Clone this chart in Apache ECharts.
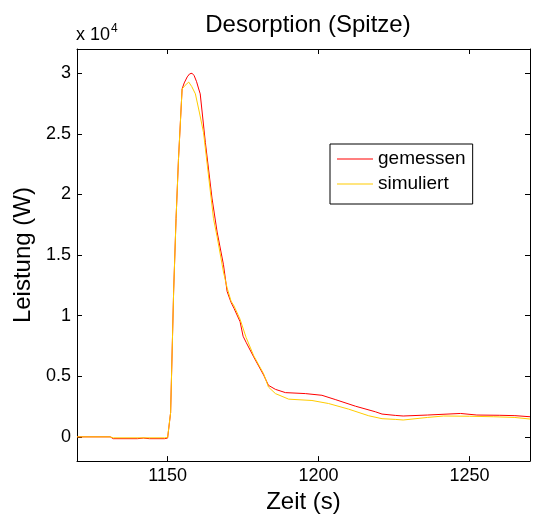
<!DOCTYPE html>
<html>
<head>
<meta charset="utf-8">
<script src="https://cdn.jsdelivr.net/npm/echarts@6/dist/echarts.min.js"></script>
<style>
  html, body { margin: 0; padding: 0; background: #fff; }
  #chart { width: 542px; height: 519px; }
</style>
</head>
<body>
<div id="chart"></div>
<script>
// Messdaten (gemessen)
var measuredTime = [1120, 1131, 1132, 1140, 1142, 1144, 1149, 1150, 1150.4, 1151, 1152, 1152.8, 1153.6, 1154.8,
  1155.5, 1156.5, 1157.3, 1158.1, 1158.8, 1159.6, 1160.3, 1160.8, 1162.5, 1164.7, 1166.4, 1168.5, 1169.7,
  1171, 1172, 1174, 1175, 1176, 1178.5, 1181.8, 1183.4, 1185.7, 1189, 1195.6, 1201.1, 1205.5, 1212.2,
  1218.8, 1221, 1225.4, 1228, 1236, 1247, 1252.4, 1260, 1265, 1270];
var measuredPower = [0, 0, -150, -150, -100, -150, -150, -100, 0, 2000, 12000, 18000, 22900, 28700,
  29200, 29700, 29950, 30000, 29800, 29300, 28700, 28300, 24300, 19700, 16900, 14200, 12000,
  11100, 10600, 9500, 8300, 7800, 6600, 5100, 4250, 3920, 3650, 3570, 3430, 3080, 2530,
  2070, 1880, 1770, 1720, 1800, 1930, 1800, 1780, 1750, 1660];

// Simulation (simuliert)
var simulatedTime = [1120, 1131, 1132, 1149, 1150, 1150.4, 1151, 1152, 1152.8, 1153.6, 1154.8,
  1155.8, 1157, 1158, 1159.2, 1160.5, 1161.9, 1165.2, 1166.4, 1168.5, 1169.7, 1171, 1172, 1174, 1176,
  1178.5, 1181.8, 1183.4, 1185.7, 1190.1, 1197.8, 1203.3, 1209.9, 1216.6, 1221, 1225.4, 1228,
  1236, 1241.4, 1250, 1258, 1265, 1270];
var simulatedPower = [0, 0, -80, -80, -50, 0, 2000, 12000, 18000, 22900, 28700,
  29000, 29270, 28900, 28300, 26800, 25100, 18000, 16500, 13600, 12300, 11200, 10800, 9700, 8200,
  6700, 5200, 4110, 3570, 3110, 3000, 2750, 2290, 1740, 1500, 1440, 1390,
  1600, 1720, 1700, 1660, 1600, 1470];

var xTicks = [1150, 1200, 1250];
var yTicks = [0, 5000, 10000, 15000, 20000, 25000, 30000];
var seriesNames = ['gemessen', 'simuliert'];

function zip(a, b) {
  return a.map(function (v, i) { return [v, b[i]]; });
}

var font = 'Liberation Sans, Arial, sans-serif';
var chart = echarts.init(document.getElementById('chart'));

function xAx(pos, labels) {
  return {
    type: 'value', position: pos, min: 1120, max: 1270,
    name: labels ? 'Zeit (s)' : '', nameLocation: 'middle', nameGap: 25,
    nameTextStyle: { fontFamily: font, fontSize: 24, color: '#000' },
    axisLine: { show: true, onZero: false, lineStyle: { color: '#000', width: 1 } },
    axisTick: { show: true, inside: true, length: 5, customValues: xTicks, lineStyle: { color: '#000' } },
    axisLabel: {
      show: labels, customValues: xTicks, margin: 6, fontFamily: font, fontSize: 18, color: '#000',
      formatter: function (v) { return String(v); }
    },
    splitLine: { show: false }
  };
}

function yAx(pos, labels) {
  return {
    type: 'value', position: pos, min: -2000, max: 32000,
    name: labels ? 'Leistung (W)' : '', nameLocation: 'middle', nameGap: 38,
    nameTextStyle: { fontFamily: font, fontSize: 24, color: '#000' },
    axisLine: { show: true, onZero: false, lineStyle: { color: '#000', width: 1 } },
    axisTick: { show: true, inside: true, length: 5, customValues: yTicks, lineStyle: { color: '#000' } },
    axisLabel: {
      show: labels, customValues: yTicks, margin: 6, fontFamily: font, fontSize: 18, color: '#000',
      formatter: function (v) { return String(v / 10000); }
    },
    splitLine: { show: false }
  };
}

chart.setOption({
  backgroundColor: '#fff',
  animation: false,
  title: {
    text: 'Desorption (Spitze)', left: 303, top: 8, textAlign: 'center',
    textStyle: { fontFamily: font, fontSize: 24, fontWeight: 'normal', color: '#000' }
  },
  grid: { left: 77, right: 12, top: 49, bottom: 54 },
  legend: {
    orient: 'vertical', left: 330, top: 144,
    data: seriesNames, icon: 'rect', itemWidth: 36, itemHeight: 1, itemGap: 5,
    borderColor: '#000', borderWidth: 1, padding: [5, 7, 10, 7],
    textStyle: { fontFamily: font, fontSize: 19, lineHeight: 20, color: '#000' }
  },
  graphic: [{
    type: 'text', left: 76, top: 23,
    style: {
      text: '{a|x 10}{b|4}',
      rich: {
        a: { fontFamily: font, fontSize: 18, fill: '#000' },
        b: { fontFamily: font, fontSize: 12, fill: '#000', padding: [0, 0, 12, 1] }
      }
    }
  }],
  xAxis: [xAx('bottom', true), xAx('top', false)],
  yAxis: [yAx('left', true), yAx('right', false)],
  series: [
    {
      name: seriesNames[0], type: 'line', data: zip(measuredTime, measuredPower),
      showSymbol: false, lineStyle: { color: '#ff0000', width: 1 }, itemStyle: { color: '#ff0000' }
    },
    {
      name: seriesNames[1], type: 'line', data: zip(simulatedTime, simulatedPower),
      showSymbol: false, lineStyle: { color: '#ffcc00', width: 1 }, itemStyle: { color: '#ffcc00' }
    }
  ]
});
</script>
</body>
</html>
